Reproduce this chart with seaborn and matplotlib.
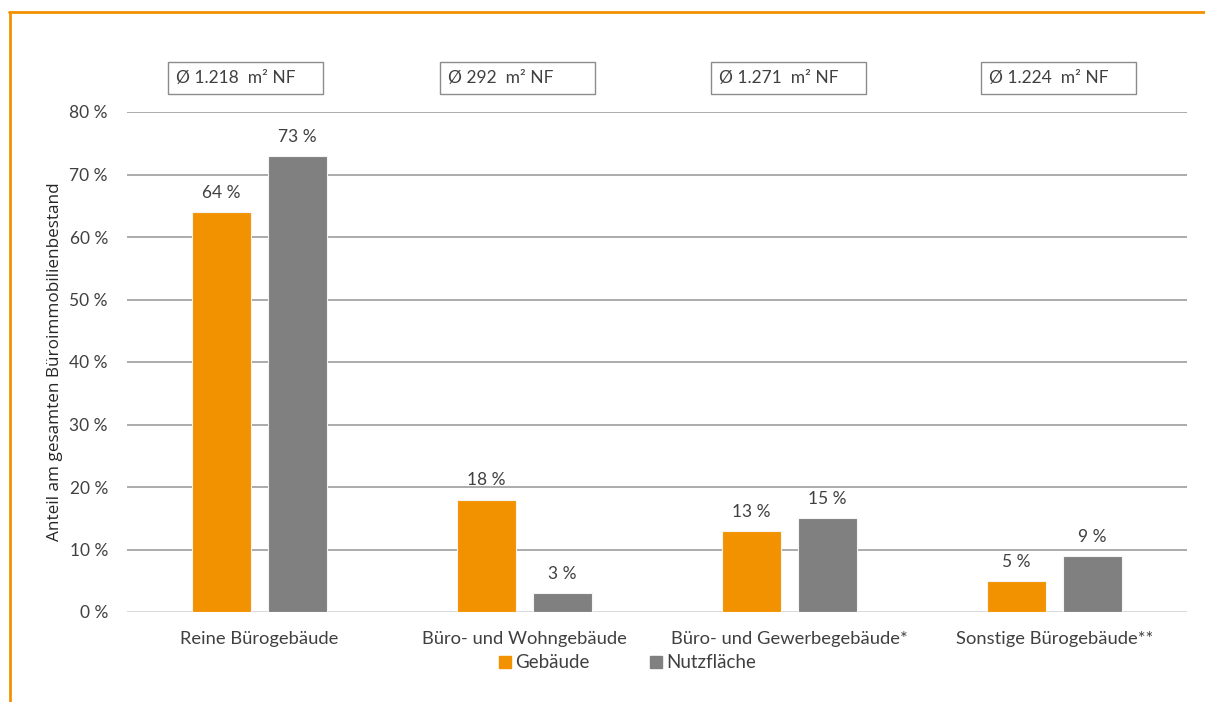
import matplotlib
matplotlib.use("Agg")
import matplotlib.pyplot as plt
from matplotlib.patches import Rectangle
from matplotlib.lines import Line2D
import seaborn as sns
import pandas as pd

# Data
categories = ["Reine Bürogebäude", "Büro- und Wohngebäude",
              "Büro- und Gewerbegebäude*", "Sonstige Bürogebäude**"]
gebaeude = [64, 18, 13, 5]
nutzflaeche = [73, 3, 15, 9]
avg_area = ["1.218", "292", "1.271", "1.224"]
series_names = ["Gebäude", "Nutzfläche"]
y_ticks = [0, 10, 20, 30, 40, 50, 60, 70, 80]

ORANGE = "#f39200"
GREY = "#808080"
TEXT = "#404040"

df = pd.DataFrame({
    "Kategorie": categories * 2,
    "Serie": [series_names[0]] * 4 + [series_names[1]] * 4,
    "Wert": gebaeude + nutzflaeche,
})

sns.set_theme(style="white")
plt.rcParams["font.family"] = ["Lato", "DejaVu Sans"]

fig = plt.figure(figsize=(12.05, 7.02), dpi=100)
ax = fig.add_axes([127 / 1205, 1 - 612 / 702, 1060 / 1205, 500 / 702])

sns.barplot(data=df, x="Kategorie", y="Wert", hue="Serie",
            palette=[ORANGE, GREY], saturation=1, width=0.574, gap=0.22,
            edgecolor="#f4f4f4", linewidth=0.8, legend=False, ax=ax)

ax.set_xlim(-0.5, 3.5)
ax.set_ylim(0, 80)
ax.set_yticks(y_ticks)
ax.set_yticklabels([f"{t} %" for t in y_ticks], color=TEXT, fontsize=12.5)
ax.tick_params(axis="y", length=0, pad=13.7)
ax.tick_params(axis="x", length=0, pad=14, labelsize=13.2, labelcolor=TEXT)
ax.set_xlabel("")
ax.set_ylabel("")

for t in y_ticks[1:]:
    ax.axhline(t, color="#ababab", lw=1.4, zorder=0)
ax.axhline(0, color="#d9d9d9", lw=1.4, zorder=0)
for s in ax.spines.values():
    s.set_visible(False)

# Value labels above the bars
for cont in ax.containers:
    for bar in cont:
        h = bar.get_height()
        ax.annotate(f"{h:.0f} %", (bar.get_x() + bar.get_width() / 2, h),
                    xytext=(0, 8), textcoords="offset points",
                    ha="center", va="bottom", fontsize=12.5, color=TEXT)

# Average floor-area boxes above each category
box_left = [-0.345, 0.681, 1.704, 2.723]
for left, a in zip(box_left, avg_area):
    ax.add_patch(Rectangle((left, 82.9), 0.585, 5.1, fill=False,
                           edgecolor="#8c8c8c", lw=1.0, clip_on=False))
    ax.text(left + 0.03, 85.45, f"Ø {a}  m² NF", ha="left", va="center",
            fontsize=12.5, color=TEXT, clip_on=False)

fig.text(55 / 1205, 1 - 362 / 702, "Anteil am gesamten Büroimmobilienbestand",
         rotation=90, ha="center", va="center", fontsize=12.3, color="#262626",
         family=["Open Sans", "DejaVu Sans"])

# Legend
handles = [Line2D([], [], marker="s", ls="", color=c, markersize=8)
           for c in (ORANGE, GREY)]
fig.legend(handles, series_names, loc="center", ncol=2,
           bbox_to_anchor=(627 / 1205, 1 - 663 / 702), frameon=False,
           fontsize=13.5, labelcolor=TEXT, handletextpad=0.2,
           columnspacing=3.2, handlelength=0.7)

# Orange frame lines (top and left)
fig.add_artist(Line2D([9 / 1205, 1.0], [1 - 11.5 / 702, 1 - 11.5 / 702],
                      color=ORANGE, lw=2, transform=fig.transFigure))
fig.add_artist(Line2D([10 / 1205, 10 / 1205], [0, 1 - 11.5 / 702],
                      color=ORANGE, lw=2, transform=fig.transFigure))

fig.savefig("out.png", dpi=100, facecolor="white")
